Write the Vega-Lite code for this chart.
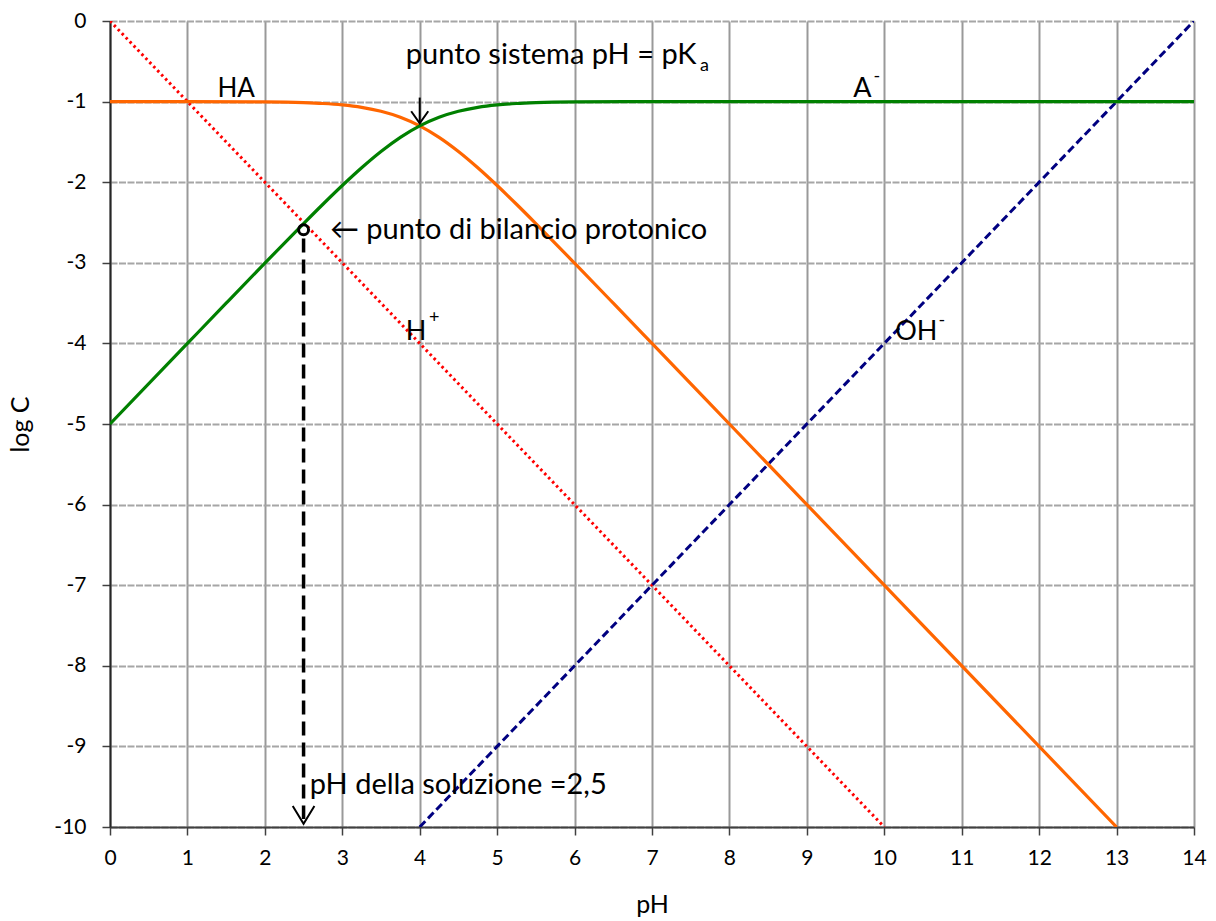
{
  "$schema": "https://vega.github.io/schema/vega-lite/v6.json",
  "width": 1084,
  "height": 806,
  "autosize": {"type": "none"},
  "padding": {"left": 110, "top": 21, "right": 21, "bottom": 94},
  "background": "white",
  "config": {
    "view": {"stroke": null},
    "font": "Lato",
    "axis": {"labelFont": "Lato", "titleFont": "Lato", "labelColor": "black", "titleColor": "black", "titleFontWeight": "normal"}
  },
  "datasets": {
    "curves": [
      {"s": "HA", "o": 0, "pH": 0, "logC": -1.0000},
      {"s": "HA", "o": 1, "pH": 1, "logC": -1.0004},
      {"s": "HA", "o": 2, "pH": 2, "logC": -1.0043},
      {"s": "HA", "o": 3, "pH": 2.5, "logC": -1.0135},
      {"s": "HA", "o": 4, "pH": 2.75, "logC": -1.0238},
      {"s": "HA", "o": 5, "pH": 3, "logC": -1.0414},
      {"s": "HA", "o": 6, "pH": 3.25, "logC": -1.0711},
      {"s": "HA", "o": 7, "pH": 3.5, "logC": -1.1193},
      {"s": "HA", "o": 8, "pH": 3.75, "logC": -1.1938},
      {"s": "HA", "o": 9, "pH": 4, "logC": -1.3010},
      {"s": "HA", "o": 10, "pH": 4.25, "logC": -1.4438},
      {"s": "HA", "o": 11, "pH": 4.5, "logC": -1.6193},
      {"s": "HA", "o": 12, "pH": 4.75, "logC": -1.8211},
      {"s": "HA", "o": 13, "pH": 5, "logC": -2.0414},
      {"s": "HA", "o": 14, "pH": 5.25, "logC": -2.2737},
      {"s": "HA", "o": 15, "pH": 5.5, "logC": -2.5135},
      {"s": "HA", "o": 16, "pH": 5.75, "logC": -2.7576},
      {"s": "HA", "o": 17, "pH": 6, "logC": -3.0043},
      {"s": "HA", "o": 18, "pH": 6.5, "logC": -3.5013},
      {"s": "HA", "o": 19, "pH": 7, "logC": -4.0004},
      {"s": "HA", "o": 20, "pH": 8, "logC": -5.0000},
      {"s": "HA", "o": 21, "pH": 13, "logC": -10.0},
      {"s": "A", "o": 0, "pH": 0, "logC": -5.0000},
      {"s": "A", "o": 1, "pH": 1, "logC": -4.0004},
      {"s": "A", "o": 2, "pH": 1.5, "logC": -3.5013},
      {"s": "A", "o": 3, "pH": 2, "logC": -3.0043},
      {"s": "A", "o": 4, "pH": 2.25, "logC": -2.7576},
      {"s": "A", "o": 5, "pH": 2.5, "logC": -2.5135},
      {"s": "A", "o": 6, "pH": 2.75, "logC": -2.2737},
      {"s": "A", "o": 7, "pH": 3, "logC": -2.0414},
      {"s": "A", "o": 8, "pH": 3.25, "logC": -1.8211},
      {"s": "A", "o": 9, "pH": 3.5, "logC": -1.6193},
      {"s": "A", "o": 10, "pH": 3.75, "logC": -1.4438},
      {"s": "A", "o": 11, "pH": 4, "logC": -1.3010},
      {"s": "A", "o": 12, "pH": 4.25, "logC": -1.1938},
      {"s": "A", "o": 13, "pH": 4.5, "logC": -1.1193},
      {"s": "A", "o": 14, "pH": 4.75, "logC": -1.0711},
      {"s": "A", "o": 15, "pH": 5, "logC": -1.0414},
      {"s": "A", "o": 16, "pH": 5.25, "logC": -1.0238},
      {"s": "A", "o": 17, "pH": 5.5, "logC": -1.0135},
      {"s": "A", "o": 18, "pH": 6, "logC": -1.0043},
      {"s": "A", "o": 19, "pH": 7, "logC": -1.0004},
      {"s": "A", "o": 20, "pH": 14, "logC": -1.0},
      {"s": "H", "o": 0, "pH": 0, "logC": 0},
      {"s": "H", "o": 1, "pH": 10, "logC": -10},
      {"s": "OH", "o": 0, "pH": 4, "logC": -10},
      {"s": "OH", "o": 1, "pH": 14, "logC": 0},
      {"s": "stem", "o": 0, "pH": 2.5, "logC": -2.7},
      {"s": "stem", "o": 1, "pH": 2.5, "logC": -9.9},
      {"s": "head1", "o": 0, "pH": 2.36, "logC": -9.74},
      {"s": "head1", "o": 1, "pH": 2.5, "logC": -9.96},
      {"s": "head1", "o": 2, "pH": 2.64, "logC": -9.74},
      {"s": "stem2", "o": 0, "pH": 4, "logC": -0.95},
      {"s": "stem2", "o": 1, "pH": 4, "logC": -1.27},
      {"s": "head2", "o": 0, "pH": 3.89, "logC": -1.12},
      {"s": "head2", "o": 1, "pH": 4, "logC": -1.27},
      {"s": "head2", "o": 2, "pH": 4.11, "logC": -1.12}
    ],
    "labels": [
      {"k": "c", "t": "HA", "pH": 1.63, "logC": -0.84},
      {"k": "l", "t": "punto sistema pH = pK", "pH": 3.82, "logC": -0.42},
      {"k": "s", "t": "a", "pH": 7.62, "logC": -0.56},
      {"k": "l", "t": "← punto di bilancio protonico", "pH": 2.84, "logC": -2.59},
      {"k": "m", "t": "H", "pH": 3.82, "logC": -3.86},
      {"k": "s", "t": "+", "pH": 4.12, "logC": -3.68},
      {"k": "m", "t": "A", "pH": 9.6, "logC": -0.84},
      {"k": "s", "t": "-", "pH": 9.86, "logC": -0.70},
      {"k": "m", "t": "OH", "pH": 10.14, "logC": -3.86},
      {"k": "s", "t": "-", "pH": 10.7, "logC": -3.72},
      {"k": "l", "t": "pH della soluzione =2,5", "pH": 2.58, "logC": -9.48}
    ]
  },
  "layer": [
    {
      "data": {"name": "curves"},
      "transform": [{"filter": "datum.s === 'H'"}],
      "mark": {"type": "line", "color": "#ff0000", "strokeWidth": 3, "strokeDash": [2.5, 3.2], "clip": true},
      "encoding": {
        "x": {"field": "pH", "type": "quantitative", "scale": {"domain": [0, 14], "nice": false}, "axis": {"title": "pH", "values": [0,1,2,3,4,5,6,7,8,9,10,11,12,13,14], "labelExpr": "'' + datum.value", "grid": true, "gridColor": "#999999", "gridWidth": 2, "domainColor": "#404040", "domainWidth": 2, "tickColor": "#404040", "tickWidth": 1.5, "tickSize": 8, "labelFontSize": 21, "labelPadding": 12, "titleFontSize": 25, "titlePadding": 24, "labelFlush": false}},
        "y": {"field": "logC", "type": "quantitative", "scale": {"domain": [-10, 0], "nice": false}, "axis": {"title": "log C", "values": [-10,-9,-8,-7,-6,-5,-4,-3,-2,-1,0], "labelExpr": "'' + datum.value", "grid": true, "gridColor": "#a6a6a6", "gridWidth": 2, "gridDash": [7, 1.5], "domainColor": "#262626", "domainWidth": 2, "tickColor": "#404040", "tickWidth": 1.5, "tickSize": 8, "labelFontSize": 21, "labelPadding": 16, "titleFontSize": 25, "titlePadding": 20, "labelFlush": false}},
        "order": {"field": "o", "type": "quantitative"}
      }
    },
    {
      "data": {"name": "curves"},
      "transform": [{"filter": "datum.s === 'OH'"}],
      "mark": {"type": "line", "color": "#000080", "strokeWidth": 3, "strokeDash": [8, 4], "clip": true},
      "encoding": {
        "x": {"field": "pH", "type": "quantitative"},
        "y": {"field": "logC", "type": "quantitative"},
        "order": {"field": "o", "type": "quantitative"}
      }
    },
    {
      "data": {"name": "curves"},
      "transform": [{"filter": "datum.s === 'HA'"}],
      "mark": {"type": "line", "color": "#ff6600", "strokeWidth": 3.2, "interpolate": "monotone", "clip": true},
      "encoding": {
        "x": {"field": "pH", "type": "quantitative"},
        "y": {"field": "logC", "type": "quantitative"},
        "order": {"field": "o", "type": "quantitative"}
      }
    },
    {
      "data": {"name": "curves"},
      "transform": [{"filter": "datum.s === 'A'"}],
      "mark": {"type": "line", "color": "#008000", "strokeWidth": 3.2, "interpolate": "monotone", "clip": true},
      "encoding": {
        "x": {"field": "pH", "type": "quantitative"},
        "y": {"field": "logC", "type": "quantitative"},
        "order": {"field": "o", "type": "quantitative"}
      }
    },
    {
      "data": {"name": "curves"},
      "transform": [{"filter": "datum.s === 'stem'"}],
      "mark": {"type": "line", "color": "black", "strokeWidth": 3.5, "strokeDash": [14, 7]},
      "encoding": {
        "x": {"field": "pH", "type": "quantitative"},
        "y": {"field": "logC", "type": "quantitative"},
        "order": {"field": "o", "type": "quantitative"}
      }
    },
    {
      "data": {"name": "curves"},
      "transform": [{"filter": "datum.s === 'head1' || datum.s === 'head2' || datum.s === 'stem2'"}],
      "mark": {"type": "line", "color": "black", "strokeWidth": 2},
      "encoding": {
        "x": {"field": "pH", "type": "quantitative"},
        "y": {"field": "logC", "type": "quantitative"},
        "detail": {"field": "s"},
        "order": {"field": "o", "type": "quantitative"}
      }
    },
    {
      "data": {"values": [{"pH": 2.5, "logC": -2.59}]},
      "mark": {"type": "point", "shape": "circle", "size": 100, "filled": false, "stroke": "black", "strokeWidth": 3, "opacity": 1},
      "encoding": {
        "x": {"field": "pH", "type": "quantitative"},
        "y": {"field": "logC", "type": "quantitative"}
      }
    },
    {
      "data": {"name": "labels"},
      "transform": [{"filter": "datum.k === 'c'"}],
      "mark": {"type": "text", "align": "center", "baseline": "middle", "fontSize": 26, "color": "black"},
      "encoding": {
        "x": {"field": "pH", "type": "quantitative"},
        "y": {"field": "logC", "type": "quantitative"},
        "text": {"field": "t"}
      }
    },
    {
      "data": {"name": "labels"},
      "transform": [{"filter": "datum.k === 'l'"}],
      "mark": {"type": "text", "align": "left", "baseline": "middle", "fontSize": 29, "color": "black"},
      "encoding": {
        "x": {"field": "pH", "type": "quantitative"},
        "y": {"field": "logC", "type": "quantitative"},
        "text": {"field": "t"}
      }
    },
    {
      "data": {"name": "labels"},
      "transform": [{"filter": "datum.k === 'm'"}],
      "mark": {"type": "text", "align": "left", "baseline": "middle", "fontSize": 27, "color": "black"},
      "encoding": {
        "x": {"field": "pH", "type": "quantitative"},
        "y": {"field": "logC", "type": "quantitative"},
        "text": {"field": "t"}
      }
    },
    {
      "data": {"name": "labels"},
      "transform": [{"filter": "datum.k === 's'"}],
      "mark": {"type": "text", "align": "left", "baseline": "middle", "fontSize": 18, "color": "black"},
      "encoding": {
        "x": {"field": "pH", "type": "quantitative"},
        "y": {"field": "logC", "type": "quantitative"},
        "text": {"field": "t"}
      }
    }
  ]
}
